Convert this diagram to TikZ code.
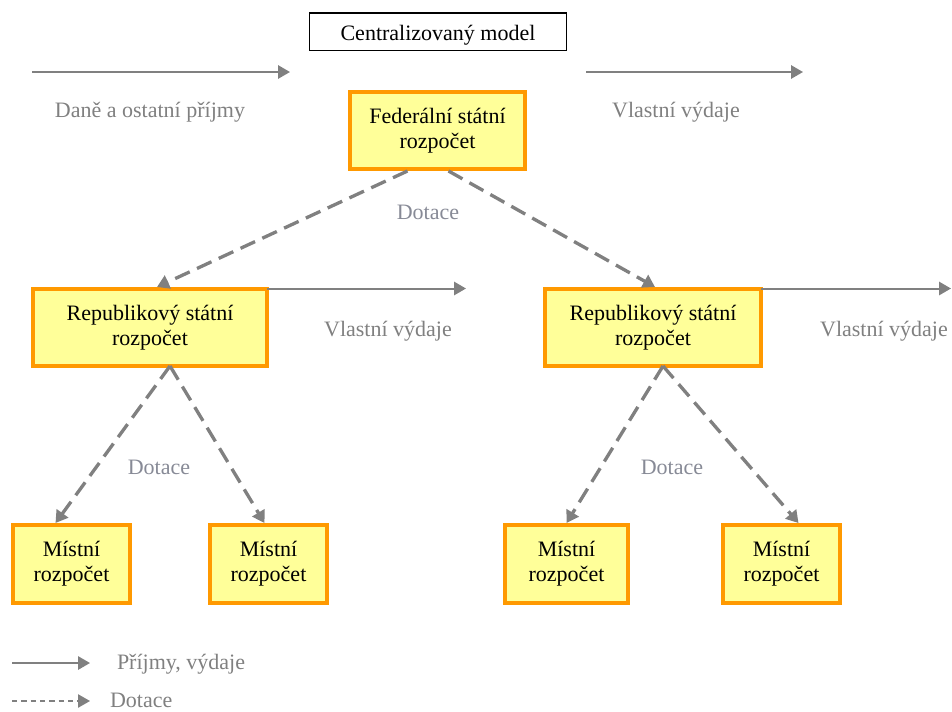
\documentclass[tikz,border=0pt]{standalone}
\usepackage{fontspec}
\setmainfont{Liberation Serif}
\newfontfamily\timesfont{Liberation Serif}
\usetikzlibrary{arrows.meta,calc}
\definecolor{boxfill}{RGB}{255,255,153}
\definecolor{boxline}{RGB}{255,153,0}
\definecolor{arrgray}{RGB}{128,128,128}
\definecolor{txtgray}{RGB}{128,128,128}
\definecolor{dotgray}{RGB}{135,138,150}
\begin{document}
\begin{tikzpicture}[x=0.75pt,y=-0.75pt,
  every node/.style={font=\timesfont\fontsize{16.5pt}{19pt}\selectfont, inner sep=0pt, outer sep=0pt},
  budget/.style={draw=boxline, fill=boxfill, line width=3.2pt, align=center, minimum height=57.75pt},
  titlebox/.style={draw=black, fill=white, line width=1.1pt, minimum width=192.4pt, minimum height=28.1pt, text height=13.6pt, text depth=0pt},
  flow/.style={draw=arrgray, line width=1.5pt, -{Triangle[length=9pt,width=10pt]}},
  grant/.style={draw=arrgray, line width=2.5pt, dash pattern=on 12pt off 6pt, -{Triangle[length=9pt,width=10.5pt]}},
  legdash/.style={draw=arrgray, line width=1.1pt, dash pattern=on 4pt off 3pt, -{Triangle[length=9pt,width=10pt]}},
  graylabel/.style={text=txtgray},
  dotlabel/.style={text=dotgray}]
\useasboundingbox (0,0) rectangle (952,711);

% title
\node[titlebox] (title) at (438,31.5) {Centralizovaný model};

% boxes
\node[budget, minimum width=131.25pt] (fed) at (437.5,130.5) {Federální státní\\rozpočet};
\node[budget, minimum width=175.5pt] (rep1) at (150,327.5) {Republikový státní\\rozpočet};
\node[budget, minimum width=162pt] (rep2) at (653,327.5) {Republikový státní\\rozpočet};
\node[budget, minimum width=87.75pt, minimum height=58.5pt] (loc1) at (71.5,564) {Místní\\rozpočet};
\node[budget, minimum width=87.75pt, minimum height=58.5pt] (loc2) at (268.5,564) {Místní\\rozpočet};
\node[budget, minimum width=92.25pt, minimum height=58.5pt] (loc3) at (566.5,564) {Místní\\rozpočet};
\node[budget, minimum width=87.75pt, minimum height=58.5pt] (loc4) at (781.5,564) {Místní\\rozpočet};

% free ends
\coordinate (inS) at (32,72);
\coordinate (inE) at (290,72);
\coordinate (outS) at (586,72);
\coordinate (outE) at (803,72);
\coordinate (r1E) at (466,288.5);
\coordinate (r2E) at (951,288.5);

% solid flows
\draw[flow] (inS) -- (inE);
\draw[flow] (outS) -- (outE);
\draw[flow] ($(rep1.north east)+(0,-0.5)$) -- (r1E);
\draw[flow] ($(rep2.north east)+(0,-0.5)$) -- (r2E);

% labels
\node[graylabel] (lin) at (150,112) {Daně a ostatní příjmy};
\node[graylabel] (lout) at (676,112) {Vlastní výdaje};
\node[graylabel] (lr1) at (388,331) {Vlastní výdaje};
\node[graylabel] (lr2) at (884,331) {Vlastní výdaje};
\node[dotlabel] (d0) at (428,212) {Dotace};
\node[dotlabel] (d1) at (159,467) {Dotace};
\node[dotlabel] (d2) at (672,467) {Dotace};

% grants
\draw[grant] ($(fed.south)+(-30,2)$) -- ($(rep1.north)+(7,-2)$);
\draw[grant] ($(fed.south)+(11,2)$) -- ($(rep2.north)+(2,-2)$);
\draw[grant] ($(rep1.south)+(20,0)$) -- ($(loc1.north)+(-16,-2)$);
\draw[grant] ($(rep1.south)+(20,0)$) -- ($(loc2.north)+(-4,-2)$);
\draw[grant] ($(rep2.south)+(10,0)$) -- ($(loc3.north)+(0,-2)$);
\draw[grant] ($(rep2.south)+(10,0)$) -- ($(loc4.north)+(17,-2)$);

% legend
\coordinate (lg1S) at (12,663);
\coordinate (lg1E) at (90,663);
\coordinate (lg2S) at (12,701);
\coordinate (lg2E) at (90,701);
\draw[flow] (lg1S) -- (lg1E);
\draw[legdash] (lg2S) -- (lg2E);
\node[graylabel, anchor=west] (leg1) at (117,664) {Příjmy, výdaje};
\node[graylabel, anchor=west] (leg2) at (110,700) {Dotace};
\end{tikzpicture}
\end{document}
